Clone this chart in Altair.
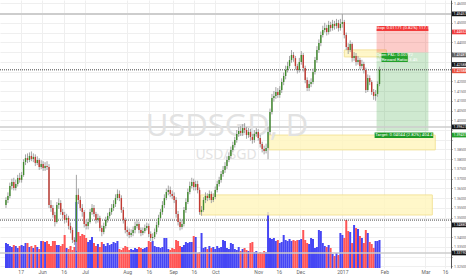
import altair as alt
import pandas as pd

# ---------------- data ----------------
first_open = 1.3565

close = [
    1.3591, 1.3612, 1.3663, 1.3683, 1.3653, 1.3673, 1.3704, 1.3694, 1.3719, 1.3786,
    1.3806, 1.3796, 1.3817, 1.3801, 1.3812, 1.3781, 1.3796, 1.3760, 1.3776, 1.3755,
    1.3765, 1.3760, 1.3565, 1.3550, 1.3514, 1.3478, 1.3565, 1.3576, 1.3529, 1.3514,
    1.3488, 1.3499, 1.3458, 1.3437, 1.3386, 1.3376, 1.3617, 1.3591, 1.3550, 1.3529,
    1.3468, 1.3458, 1.3478, 1.3529, 1.3550, 1.3519, 1.3488, 1.3499, 1.3447, 1.3427,
    1.3458, 1.3488, 1.3509, 1.3529, 1.3550, 1.3570, 1.3601, 1.3622, 1.3601, 1.3540,
    1.3488, 1.3437, 1.3427, 1.3411, 1.3422, 1.3437, 1.3458, 1.3468, 1.3437, 1.3422,
    1.3432, 1.3447, 1.3458, 1.3417, 1.3396, 1.3401, 1.3427, 1.3463, 1.3499, 1.3529,
    1.3565, 1.3601, 1.3632, 1.3642, 1.3622, 1.3612, 1.3591, 1.3519, 1.3478, 1.3452,
    1.3468, 1.3540, 1.3581, 1.3632, 1.3663, 1.3683, 1.3658, 1.3673, 1.3642, 1.3529,
    1.3540, 1.3591, 1.3612, 1.3601, 1.3622, 1.3591, 1.3606, 1.3642, 1.3673, 1.3694,
    1.3724, 1.3745, 1.3765, 1.3796, 1.3817, 1.3848, 1.3873, 1.3899, 1.3930, 1.3945,
    1.3935, 1.3960, 1.3950, 1.3924, 1.3940, 1.3914, 1.3899, 1.3930, 1.3940, 1.3909,
    1.3878, 1.3853, 1.3842, 1.3858, 1.3940, 1.4042, 1.4114, 1.4125, 1.4145, 1.4130,
    1.4155, 1.4196, 1.4227, 1.4258, 1.4278, 1.4309, 1.4335, 1.4319, 1.4278, 1.4258,
    1.4299, 1.4335, 1.4268, 1.4207, 1.4166, 1.4186, 1.4196, 1.4248, 1.4309, 1.4361,
    1.4396, 1.4437, 1.4463, 1.4473, 1.4453, 1.4489, 1.4473, 1.4494, 1.4484, 1.4499,
    1.4473, 1.4494, 1.4504, 1.4437, 1.4376, 1.4361, 1.4391, 1.4319, 1.4330, 1.4299,
    1.4309, 1.4278, 1.4289, 1.4258, 1.4155, 1.4217, 1.4196, 1.4145, 1.4125, 1.4135,
    1.4186, 1.4259,
]

high = [
    1.3605, 1.3630, 1.3680, 1.3700, 1.3705, 1.3695, 1.3720, 1.3730, 1.3735, 1.3800,
    1.3825, 1.3830, 1.3835, 1.3840, 1.3830, 1.3825, 1.3815, 1.3805, 1.3795, 1.3790,
    1.3785, 1.3790, 1.3775, 1.3590, 1.3565, 1.3530, 1.3580, 1.3600, 1.3590, 1.3545,
    1.3530, 1.3520, 1.3510, 1.3475, 1.3450, 1.3400, 1.3720, 1.3650, 1.3610, 1.3570,
    1.3540, 1.3490, 1.3495, 1.3545, 1.3570, 1.3565, 1.3530, 1.3520, 1.3510, 1.3460,
    1.3475, 1.3505, 1.3525, 1.3550, 1.3570, 1.3590, 1.3620, 1.3645, 1.3640, 1.3615,
    1.3555, 1.3500, 1.3455, 1.3445, 1.3440, 1.3455, 1.3480, 1.3490, 1.3480, 1.3450,
    1.3450, 1.3465, 1.3475, 1.3470, 1.3430, 1.3420, 1.3445, 1.3480, 1.3515, 1.3545,
    1.3585, 1.3620, 1.3650, 1.3665, 1.3660, 1.3640, 1.3630, 1.3605, 1.3535, 1.3495,
    1.3490, 1.3555, 1.3600, 1.3650, 1.3685, 1.3705, 1.3700, 1.3690, 1.3690, 1.3655,
    1.3560, 1.3605, 1.3630, 1.3625, 1.3640, 1.3635, 1.3625, 1.3660, 1.3690, 1.3710,
    1.3740, 1.3765, 1.3785, 1.3815, 1.3835, 1.3865, 1.3890, 1.3915, 1.3950, 1.3965,
    1.3970, 1.3980, 1.3985, 1.3965, 1.3960, 1.3955, 1.3930, 1.3950, 1.3960, 1.3955,
    1.3925, 1.3890, 1.3870, 1.3880, 1.3965, 1.4060, 1.4135, 1.4150, 1.4170, 1.4165,
    1.4175, 1.4215, 1.4245, 1.4280, 1.4300, 1.4330, 1.4360, 1.4350, 1.4330, 1.4290,
    1.4320, 1.4355, 1.4345, 1.4280, 1.4220, 1.4205, 1.4215, 1.4265, 1.4325, 1.4380,
    1.4415, 1.4455, 1.4485, 1.4500, 1.4490, 1.4510, 1.4505, 1.4515, 1.4510, 1.4520,
    1.4515, 1.4520, 1.4546, 1.4515, 1.4450, 1.4395, 1.4410, 1.4400, 1.4350, 1.4345,
    1.4330, 1.4320, 1.4310, 1.4300, 1.4270, 1.4235, 1.4230, 1.4205, 1.4160, 1.4155,
    1.4200, 1.4275,
]

low = [
    1.3550, 1.3575, 1.3600, 1.3645, 1.3640, 1.3640, 1.3660, 1.3680, 1.3680, 1.3710,
    1.3770, 1.3780, 1.3785, 1.3790, 1.3785, 1.3765, 1.3770, 1.3745, 1.3750, 1.3740,
    1.3740, 1.3745, 1.3550, 1.3530, 1.3500, 1.3455, 1.3470, 1.3545, 1.3515, 1.3495,
    1.3470, 1.3475, 1.3440, 1.3420, 1.3370, 1.3360, 1.3330, 1.3570, 1.3535, 1.3505,
    1.3450, 1.3440, 1.3440, 1.3470, 1.3515, 1.3505, 1.3470, 1.3475, 1.3430, 1.3405,
    1.3415, 1.3445, 1.3475, 1.3495, 1.3515, 1.3535, 1.3555, 1.3590, 1.3585, 1.3525,
    1.3470, 1.3420, 1.3405, 1.3395, 1.3400, 1.3405, 1.3420, 1.3445, 1.3420, 1.3405,
    1.3410, 1.3420, 1.3435, 1.3400, 1.3380, 1.3380, 1.3390, 1.3415, 1.3450, 1.3485,
    1.3515, 1.3550, 1.3590, 1.3615, 1.3605, 1.3595, 1.3575, 1.3500, 1.3460, 1.3435,
    1.3440, 1.3455, 1.3525, 1.3570, 1.3620, 1.3650, 1.3640, 1.3640, 1.3625, 1.3515,
    1.3510, 1.3530, 1.3575, 1.3585, 1.3590, 1.3575, 1.3580, 1.3595, 1.3630, 1.3660,
    1.3680, 1.3710, 1.3730, 1.3750, 1.3785, 1.3805, 1.3835, 1.3860, 1.3885, 1.3915,
    1.3920, 1.3920, 1.3935, 1.3905, 1.3910, 1.3895, 1.3880, 1.3885, 1.3915, 1.3895,
    1.3860, 1.3835, 1.3825, 1.3830, 1.3800, 1.3925, 1.4030, 1.4095, 1.4110, 1.4115,
    1.4115, 1.4140, 1.4180, 1.4210, 1.4245, 1.4265, 1.4295, 1.4300, 1.4260, 1.4240,
    1.4245, 1.4285, 1.4250, 1.4190, 1.4150, 1.4150, 1.4170, 1.4185, 1.4235, 1.4295,
    1.4345, 1.4380, 1.4425, 1.4450, 1.4435, 1.4440, 1.4455, 1.4460, 1.4465, 1.4470,
    1.4455, 1.4460, 1.4475, 1.4420, 1.4360, 1.4340, 1.4350, 1.4300, 1.4305, 1.4280,
    1.4285, 1.4260, 1.4265, 1.4240, 1.4140, 1.4145, 1.4180, 1.4130, 1.4105, 1.4100,
    1.4120, 1.4175,
]

volume = [
    25, 24, 22, 21, 23, 22, 20, 22, 23, 22,
    25, 25, 21, 22, 20, 23, 21, 19, 27, 27,
    26, 27, 24, 22, 27, 27, 23, 23, 22, 24,
    33, 20, 19, 22, 18, 21, 66, 36, 32, 34,
    33, 30, 26, 28, 31, 25, 22, 24, 21, 26,
    24, 22, 25, 23, 24, 26, 25, 27, 19, 18,
    20, 22, 21, 18, 19, 18, 20, 19, 21, 20,
    19, 20, 21, 27, 26, 27, 22, 21, 21, 20,
    21, 30, 30, 19, 18, 20, 19, 28, 27, 22,
    21, 23, 26, 25, 26, 26, 32, 31, 15, 16,
    35, 20, 21, 19, 22, 20, 21, 19, 22, 20,
    21, 28, 27, 20, 19, 25, 24, 19, 18, 21,
    17, 19, 20, 18, 17, 25, 26, 16, 17, 15,
    16, 15, 17, 16, 56, 30, 29, 30, 27, 28,
    25, 26, 33, 28, 27, 29, 27, 28, 27, 28,
    28, 29, 38, 28, 25, 24, 30, 29, 20, 21,
    38, 37, 25, 22, 21, 23, 20, 14, 12, 15,
    13, 35, 33, 30, 48, 37, 36, 25, 43, 40,
    39, 32, 30, 25, 38, 35, 26, 24, 20, 27,
    27, 28,
]

# time axis (bar index -> label)
x_tick_pos = [7.5, 18.5, 29.5, 40.5, 62, 73, 85.5, 96, 107, 129, 139.5, 150.5, 172, 193.5, 214.5, 224.5]
x_tick_lab = ["17", "Jun", "16", "Jul", "Aug", "16", "Sep", "16", "Oct", "Nov", "16", "Dec", "2017", "Feb", "Mar", "16"]

price_ticks = [round(1.325 + 0.005 * k, 3) for k in range(28)]

# horizontal levels
grey_levels = [1.45457, 1.39660, 1.33190]
grey_widths = [2, 1.5, 1.5]
dotted_levels = [1.42588, 1.34880]

# yellow zones (bar index span, price span)
zone_x0 = [173.0, 134.5, 99.5]
zone_x1 = [194.5, 219.5, 218.0]
zone_top = [1.4361, 1.3924, 1.3617]
zone_bot = [1.4325, 1.3848, 1.3514]

# short position tool
pos_x0, pos_x1 = 189.5, 216.0
entry_price, stop_price, target_price = 1.43481, 1.44652, 1.39437

# price-scale labels
box_pos = [1.45457, 1.4453, 1.4335, 1.4286, 1.42535, 1.3966, 1.3924, 1.3463, 1.3319]
box_text = ["1.45457", "1.44652", "1.43481", "1.42588", "1.42588", "1.39627", "1.39437", "1.34880", "1.33190"]
box_color = ["#131313", "#f03c3c", "#5d5d5d", "#131313", "#e8503c", "#131313", "#22a02a", "#131313", "#131313"]

# ---------------- build ----------------
n = len(close)
opens = [first_open] + close[:-1]
df = pd.DataFrame({"i": list(range(n)), "open": opens, "high": high, "low": low,
                   "close": close, "volume": volume})

xs = alt.Scale(domain=[-0.5, 225.0], nice=False, zero=False)
ys = alt.Scale(domain=[1.3242, 1.4617], nice=False, zero=False)

expr = "''"
for p, lab in reversed(list(zip(x_tick_pos, x_tick_lab))):
    expr = f"datum.value == {p} ? '{lab}' : ({expr})"

# price labels hidden under the coloured price boxes (as the price scale does)
hidden = [int(round(t * 1000)) for t in price_ticks if any(abs(t - b) < 0.0025 for b in box_pos)]
y_expr = f"indexof({hidden}, round(datum.value * 1000)) >= 0 ? '' : format(datum.value, '.5f')"

FONT = "Roboto"
x_axis = alt.Axis(values=x_tick_pos, labelExpr=expr, grid=True, gridColor="#efefef",
                  ticks=False, domain=False, labelFontSize=5, labelColor="#666666",
                  labelPadding=1.5, labelOverlap=False, labelFlush=False, title=None,
                  labelFont=FONT)
y_axis = alt.Axis(orient="right", values=price_ticks, labelExpr=y_expr, grid=True,
                  gridColor="#efefef", labelFontSize=3.6, labelColor="#666666", tickSize=1,
                  tickColor="#777777", domainColor="#555555", labelPadding=1.5,
                  labelOverlap=False, labelFlush=False, title=None, labelFont=FONT)

X = lambda f: alt.X(f, scale=xs, axis=x_axis)
Y = lambda f: alt.Y(f, scale=ys, axis=y_axis)

up_cond = "datum.close >= datum.open"

# volume (own scale)
vol = alt.Chart(df).mark_bar(size=2).encode(
    x=X("i:Q"),
    y=alt.Y("volume:Q", scale=alt.Scale(domain=[0, 268], nice=False), axis=None),
    color=alt.condition(up_cond, alt.value("#4646f4"), alt.value("#ff5555")),
)

zones_df = pd.DataFrame({"x0": zone_x0, "x1": zone_x1, "top": zone_top, "bot": zone_bot})
zones = alt.Chart(zones_df).mark_rect(fill="#fff6c0", stroke="#f2df8a", strokeWidth=1, opacity=0.85).encode(
    x=X("x0:Q"), x2="x1:Q", y=Y("bot:Q"), y2="top:Q")

reg_df = pd.DataFrame({"x0": [pos_x0, pos_x0], "x1": [pos_x1, pos_x1],
                       "a": [entry_price, entry_price], "b": [stop_price, target_price],
                       "kind": ["stop", "target"]})
regions = alt.Chart(reg_df).mark_rect(opacity=0.27).encode(
    x=X("x0:Q"), x2="x1:Q", y=Y("a:Q"), y2="b:Q",
    color=alt.Color("kind:N", scale=alt.Scale(domain=["stop", "target"], range=["#f44336", "#4caf50"]), legend=None))

grey_df = pd.DataFrame({"p": grey_levels, "w": grey_widths})
grey_lines = alt.Chart(grey_df).mark_rule(color="#cdcdcd").encode(
    y=Y("p:Q"), strokeWidth=alt.StrokeWidth("w:Q", scale=None))

dot_df = pd.DataFrame({"p": dotted_levels})
dot_lines = alt.Chart(dot_df).mark_rule(color="#444444", strokeWidth=1, strokeDash=[1, 1]).encode(
    y=Y("p:Q"))

wm1 = alt.Chart(pd.DataFrame({"t": ["USDSGD, D"]})).mark_text(
    fontSize=31, font="Open Sans", color="#e2e2e2", align="center", baseline="alphabetic").encode(
    text="t:N", x=alt.value(227), y=alt.value(136))
wm2 = alt.Chart(pd.DataFrame({"t": ["USD/SGD"]})).mark_text(
    fontSize=14, font="Open Sans", color="#e2e2e2", align="center", baseline="alphabetic").encode(
    text="t:N", x=alt.value(226), y=alt.value(159))

wicks = alt.Chart(df).mark_rule(color="#a3a3a3", strokeWidth=1).encode(
    x=X("i:Q"), y=Y("low:Q"), y2="high:Q")
bodies = alt.Chart(df).mark_bar(size=1.4).encode(
    x=X("i:Q"), y=Y("open:Q"), y2="close:Q",
    color=alt.condition(up_cond, alt.value("#3f8a2c"), alt.value("#c23a32")))

# labels of the position tool
lab_df = pd.DataFrame({
    "x0": [pos_x0, 192.0, 188.5], "x1": [pos_x1, 205.5, 218.5],
    "lo": [1.4458, 1.4299, 1.3909], "hi": [1.4484, 1.4345, 1.3937],
    "c": ["#f23b3b", "#22a02a", "#1e9a26"]})
lab_boxes = alt.Chart(lab_df).mark_rect().encode(
    x=X("x0:Q"), x2="x1:Q", y=Y("lo:Q"), y2="hi:Q", color=alt.Color("c:N", scale=None))
txt_df = pd.DataFrame({
    "x": [202.75, 198.75, 198.75, 203.5],
    "y": [1.4471, 1.4333, 1.4311, 1.3923],
    "t": ["Stop: 0.01171 (0.82%) 117.1", "Open P&L: 0.00772", "Risk/Reward Ratio: 3.45",
          "Target: 0.04044 (2.82%) 404.4"]})
lab_text = alt.Chart(txt_df).mark_text(fontSize=4.3, color="white", font=FONT, baseline="middle").encode(
    x=X("x:Q"), y=Y("y:Q"), text="t:N")

# price-scale boxes
box_df = pd.DataFrame({"p": box_pos, "t": box_text, "c": box_color})
box_df["lo"] = box_df["p"] - 0.0012
box_df["hi"] = box_df["p"] + 0.0012
axis_boxes = alt.Chart(box_df).mark_rect().encode(
    x=alt.value(452), x2=alt.value(480), y=Y("lo:Q"), y2="hi:Q", color=alt.Color("c:N", scale=None))
axis_text = alt.Chart(box_df).mark_text(fontSize=3.6, color="white", font=FONT, align="left", baseline="middle").encode(
    x=alt.value(453.5), y=Y("p:Q"), text="t:N")

price_layer = alt.layer(zones, regions, grey_lines, dot_lines, wm1, wm2, wicks, bodies,
                        lab_boxes, lab_text, axis_boxes, axis_text)

chart = alt.layer(vol, price_layer).resolve_scale(y="independent").properties(
    width=451, height=268,
    autosize=alt.AutoSizeParams(type="none"),
    padding={"left": 0, "top": 0, "right": 15, "bottom": 7},
    background="white",
).configure_view(strokeWidth=0)

chart.save("out.html", embed_options={"renderer": "svg", "actions": False})
